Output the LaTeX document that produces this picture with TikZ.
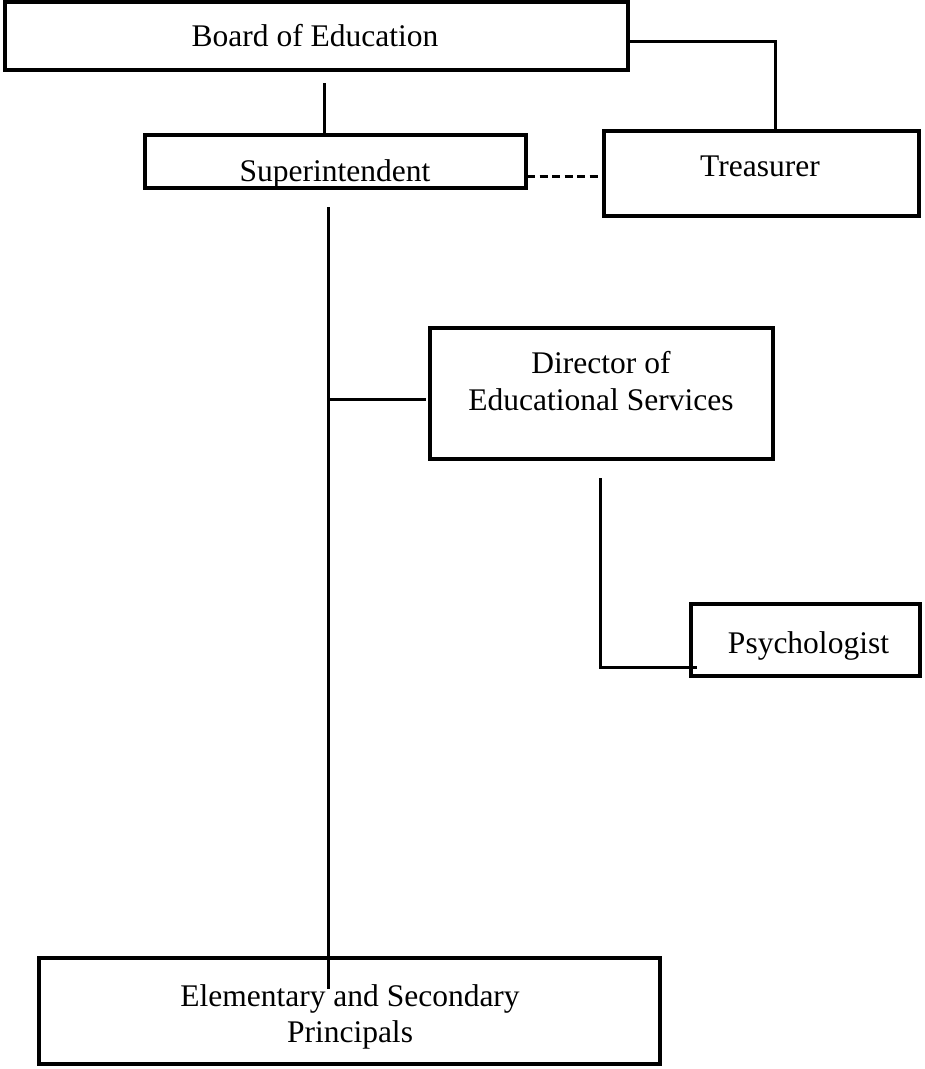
\documentclass[tikz,border=0pt]{standalone}
\usepackage{fontspec}
\setmainfont{Liberation Serif}
\begin{document}
\begin{tikzpicture}[x=1pt,y=-1pt,
  box/.style={draw, line width=3.5pt, inner sep=0pt},
  lbl/.style={font=\fontsize{31.5}{37}\selectfont, align=center, inner sep=0pt, anchor=base},
  conn/.style={line width=3pt},
  dashconn/.style={line width=3pt, dash pattern=on 8pt off 4.5pt}]
\useasboundingbox (0,0) rectangle (925,1069);
% boxes
\node[box, minimum width=623pt, minimum height=68pt] (board) at (316.5,36) {};
\node[box, minimum width=381pt, minimum height=53pt] (sup) at (335.5,161.5) {};
\node[box, minimum width=315pt, minimum height=85pt] (treas) at (761.5,173.5) {};
\node[box, minimum width=343pt, minimum height=131pt] (dir) at (601.5,393.5) {};
\node[box, minimum width=229pt, minimum height=72pt] (psych) at (805.5,640) {};
\node[box, minimum width=621pt, minimum height=106pt] (prin) at (349.5,1011) {};
% texts (anchor base = baseline of last line)
\node[lbl] (boardt) at (315,46.7) {Board of Education};
\node[lbl] (supt) at (335,181.7) {Superintendent};
\node[lbl] (treast) at (760,176.7) {Treasurer};
\node[lbl] (dirt) at (601,410) {Director of\\Educational Services};
\node[lbl] (psycht) at (808.5,653) {Psychologist};
\node[lbl, font=\fontsize{31.5}{36}\selectfont] (print) at (350,1042) {Elementary and Secondary\\Principals};
% connector points
\coordinate (bs) at (324,83);
\coordinate (bt) at (630,41);
\coordinate (btc) at (775,41);
\coordinate (sd1) at (527,176);
\coordinate (sd2) at (603,176);
\coordinate (mv1) at (328,207);
\coordinate (mv2) at (328,989);
\coordinate (br1) at (328,399);
\coordinate (br2) at (426,399);
\coordinate (dp1) at (600,478);
\coordinate (dp2) at (600,667);
\coordinate (dp3) at (697,667);
% connectors
\draw[conn] (bs) -- (bs |- sup.north);
\draw[conn] (bt) -- (btc) -- (btc |- treas.north);
\draw[dashconn] (sd1) -- (sd2);
\draw[conn] (mv1) -- (mv2);
\draw[conn] (br1) -- (br2);
\draw[conn] (dp1) -- (dp2) -- (dp3);
\end{tikzpicture}
\end{document}
